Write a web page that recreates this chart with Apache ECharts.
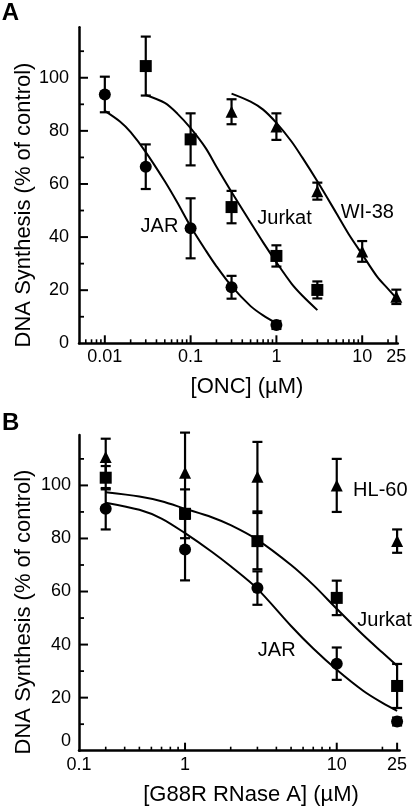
<!DOCTYPE html>
<html><head><meta charset="utf-8">
<script src="https://cdn.jsdelivr.net/npm/echarts@6/dist/echarts.min.js"></script>
<style>html,body{margin:0;padding:0;background:#fff}#c{width:412px;height:807px}</style>
</head><body><div id="c"></div>
<script>
// ---------- Panel A : ONC ----------
const oncXMin = 0.005, oncXMax = 26;
const oncXTickValues = [0.01, 0.1, 1, 10, 25];
const oncXTickLabels = ['0.01', '0.1', '1', '10', '25'];
const oncXMinorTicks = [0.006, 0.007, 0.008, 0.009, 0.02, 0.03, 0.04, 0.05, 0.06, 0.07, 0.08, 0.09,
  0.2, 0.3, 0.4, 0.5, 0.6, 0.7, 0.8, 0.9, 2, 3, 4, 5, 6, 7, 8, 9, 20];

const oncJarX = [0.01, 0.03, 0.1, 0.3, 1];
const oncJarY = [93.7, 66.5, 43.3, 21.1, 6.9];
const oncJarErr = [6.7, 8.4, 11.3, 4.3, 1.5];
const oncJurkatX = [0.03, 0.1, 0.3, 1, 3];
const oncJurkatY = [104.4, 76.8, 51.3, 32.9, 20.1];
const oncJurkatErr = [11.1, 9.8, 6.1, 4.0, 3.2];
const oncWi38X = [0.3, 1, 3, 10, 25];
const oncWi38Y = [87.2, 81.6, 57.3, 34.6, 17.5];
const oncWi38Err = [4.7, 5.0, 3.2, 3.9, 2.7];

const oncJarFitX = [0.01, 0.015, 0.02, 0.03, 0.05, 0.07, 0.1, 0.15, 0.2, 0.3, 0.5, 0.7, 1];
const oncJarFitY = [87.5, 83.5, 79.5, 72, 61, 53, 44, 35, 29, 21.5, 14, 10.5, 7.5];
const oncJurkatFitX = [0.03, 0.05, 0.07, 0.1, 0.15, 0.2, 0.3, 0.5, 0.7, 1, 1.5, 2, 3];
const oncJurkatFitY = [93.5, 90.5, 86.5, 81, 73.5, 66.5, 57, 45.5, 38, 30.5, 22.5, 18, 12.5];
const oncWi38FitX = [0.3, 0.5, 0.7, 1, 1.5, 2, 3, 5, 7, 10, 15, 20, 25];
const oncWi38FitY = [94, 91, 88, 83, 76, 70, 61, 49, 41, 33.5, 25, 20.5, 17];

// ---------- Panel B : G88R RNase A ----------
const rnXMin = 0.2, rnXMax = 26;
const rnXTickValues = [0.2, 1, 10, 25];
const rnXTickLabels = ['0.1', '1', '10', '25'];
const rnXMinorTicks = [0.3, 0.4, 0.5, 0.6, 0.7, 0.8, 0.9, 2, 3, 4, 5, 6, 7, 8, 9, 20];

const rnX = [0.3, 1, 3, 10, 25];
const rnJarY = [91.2, 75.8, 61.3, 32.8, 11.0];
const rnJarErr = [7.8, 11.6, 6.3, 6.1, 1.5];
const rnJurkatY = [102.9, 89.3, 79.0, 57.6, 24.4];
const rnJurkatErr = [4.4, 9.2, 10.6, 6.5, 8.3];
const rnHl60Y = [110.7, 104.8, 103.3, 100.0, 79.0];
const rnHl60Err = [6.9, 15.1, 13.1, 10.0, 4.4];

const rnFitX = [0.3, 0.5, 0.7, 1, 1.5, 2, 3, 5, 7, 10, 15, 20, 25];
const rnJurkatFitY = [97.4, 95.8, 94, 91.2, 88, 85, 79.5, 70, 62.5, 53.5, 43.5, 37, 32];
const rnJarFitY = [93.5, 90.8, 87.5, 82, 75, 69.5, 61, 47, 38.5, 30.5, 22.5, 18, 15];

// ---------- shared y axis ----------
const yMin = 0, yMax = 119;
const yTickValues = [0, 20, 40, 60, 80, 100];
const yMinorTicks = [10, 30, 50, 70, 90, 110];

const FONT = '"Liberation Sans", Arial, Helvetica, sans-serif';
const K = '#000';

function zip(xs, ys, es) { return xs.map((x, i) => es ? [x, ys[i], es[i]] : [x, ys[i]]); }
function labelFor(v, values, labels) {
  for (let i = 0; i < values.length; i++) {
    if (Math.abs(Math.log10(v) - Math.log10(values[i])) < 1e-6) return labels[i];
  }
  return '';
}
function xAxisDef(gridIndex, min, max, values, labels) {
  return {
    type: 'log', logBase: 10, gridIndex, min, max, position: 'bottom',
    axisLine: { show: true, onZero: false, lineStyle: { color: K, width: 2.5 } },
    axisTick: { show: false },
    axisLabel: { show: true, customValues: values, margin: 5, color: K, fontSize: 18, fontFamily: FONT,
      formatter: v => labelFor(v, values, labels) },
    splitLine: { show: false }, minorTick: { show: false }
  };
}
function yAxisDef(gridIndex, margin, shiftZero) {
  return {
    type: 'value', gridIndex, min: yMin, max: yMax, position: 'left',
    axisLine: { show: true, onZero: false, lineStyle: { color: K, width: 2.5 } },
    axisTick: { show: false },
    axisLabel: { show: true, customValues: yTickValues, margin, color: K, fontSize: 18, fontFamily: FONT,
      formatter: v => (shiftZero && v === 0) ? '{z|0}' : String(v),
      rich: { z: { fontSize: 18, fontFamily: FONT, color: K, padding: [0, 0, 19, 0] } } },
    splitLine: { show: false }
  };
}
// Inward tick marks: position along the axis comes from the axis scale (api.coord),
// the other coordinate is the grid edge taken from params.coordSys.
function xTicks(ai, values, midY, len, w) {
  return { type: 'custom', xAxisIndex: ai, yAxisIndex: ai, silent: true, clip: false, z: 10, zlevel: 1,
    data: values.map(v => [v, midY]), encode: { x: 0, y: 1 },
    renderItem: (params, api) => {
      const px = api.coord([api.value(0), api.value(1)])[0];
      const cs = params.coordSys;
      const py = cs.y + cs.height;
      return { type: 'group', children: [{ type: 'line',
        shape: { x1: px, y1: py, x2: px, y2: py - len }, style: { stroke: K, lineWidth: w, fill: null } }] };
    } };
}
function yTicks(ai, midX, values, len, w) {
  return { type: 'custom', xAxisIndex: ai, yAxisIndex: ai, silent: true, clip: false, z: 10, zlevel: 1,
    data: values.map(v => [midX, v]), encode: { x: 0, y: 1 },
    renderItem: (params, api) => {
      const py = api.coord([api.value(0), api.value(1)])[1];
      const cs = params.coordSys;
      const px = cs.x;
      return { type: 'group', children: [{ type: 'line',
        shape: { x1: px, y1: py, x2: px + len, y2: py }, style: { stroke: K, lineWidth: w, fill: null } }] };
    } };
}
function errRender(params, api) {
  const x = api.value(0), y = api.value(1), e = api.value(2);
  const t = api.coord([x, y + e]);
  const b = api.coord([x, y - e]);
  const hw = 5;
  const st = { stroke: K, lineWidth: 2.2, fill: null };
  return { type: 'group', children: [
    { type: 'line', shape: { x1: t[0], y1: t[1], x2: b[0], y2: b[1] }, style: st },
    { type: 'line', shape: { x1: t[0] - hw, y1: t[1], x2: t[0] + hw, y2: t[1] }, style: st },
    { type: 'line', shape: { x1: b[0] - hw, y1: b[1], x2: b[0] + hw, y2: b[1] }, style: st }
  ] };
}
function errSeries(ai, xs, ys, es) {
  return { type: 'custom', xAxisIndex: ai, yAxisIndex: ai, renderItem: errRender, clip: false,
    encode: { x: 0, y: 1 }, data: zip(xs, ys, es), z: 3, silent: true };
}
function pts(ai, xs, ys, symbol) {
  return { type: 'scatter', xAxisIndex: ai, yAxisIndex: ai, symbol, symbolSize: 12,
    itemStyle: { color: K, opacity: 1 }, data: zip(xs, ys), z: 5, silent: true };
}
function fit(ai, xs, ys) {
  return { type: 'line', xAxisIndex: ai, yAxisIndex: ai, data: zip(xs, ys), showSymbol: false,
    smooth: 0.3, lineStyle: { color: K, width: 2 }, z: 4, silent: true };
}
function txt(x, y, text, size, extra) {
  return Object.assign({ type: 'text', x, y, silent: true,
    style: { text, font: (extra && extra.bold ? 'bold ' : '') + size + 'px ' + FONT, fill: K,
      align: 'center', verticalAlign: 'middle' } }, extra && extra.rot ? { rotation: Math.PI / 2 } : {});
}

const oncMidX = 0.3, rnMidX = 2, midY = 50;

const option = {
  backgroundColor: '#fff',
  animation: false,
  grid: [
    { left: 79, top: 27.3, width: 318.8, height: 316 },
    { left: 79, top: 435, width: 320.7, height: 315.7 }
  ],
  xAxis: [
    xAxisDef(0, oncXMin, oncXMax, oncXTickValues, oncXTickLabels),
    xAxisDef(1, rnXMin, rnXMax, rnXTickValues, rnXTickLabels)
  ],
  yAxis: [yAxisDef(0, 10, false), yAxisDef(1, 8, true)],
  series: [
    xTicks(0, oncXTickValues, midY, 8, 2),
    xTicks(0, oncXMinorTicks, midY, 4, 1.6),
    yTicks(0, oncMidX, yTickValues.slice(1), 9, 2),
    yTicks(0, oncMidX, yMinorTicks, 5, 1.8),
    errSeries(0, oncJarX, oncJarY, oncJarErr),
    errSeries(0, oncJurkatX, oncJurkatY, oncJurkatErr),
    errSeries(0, oncWi38X, oncWi38Y, oncWi38Err),
    fit(0, oncJarFitX, oncJarFitY),
    fit(0, oncJurkatFitX, oncJurkatFitY),
    fit(0, oncWi38FitX, oncWi38FitY),
    pts(0, oncJarX, oncJarY, 'circle'),
    pts(0, oncJurkatX, oncJurkatY, 'rect'),
    pts(0, oncWi38X, oncWi38Y, 'triangle'),

    xTicks(1, rnXTickValues.slice(1), midY, 8, 2),
    xTicks(1, rnXMinorTicks, midY, 4, 1.6),
    yTicks(1, rnMidX, yTickValues.slice(1), 9, 2),
    yTicks(1, rnMidX, yMinorTicks, 5, 1.8),
    errSeries(1, rnX, rnHl60Y, rnHl60Err),
    errSeries(1, rnX, rnJurkatY, rnJurkatErr),
    errSeries(1, rnX, rnJarY, rnJarErr),
    fit(1, rnFitX, rnJurkatFitY),
    fit(1, rnFitX, rnJarFitY),
    pts(1, rnX, rnHl60Y, 'triangle'),
    pts(1, rnX, rnJurkatY, 'rect'),
    pts(1, rnX, rnJarY, 'circle')
  ],
  graphic: [
    txt(10.5, 13.5, 'A', 24, { bold: true }),
    txt(10.7, 423, 'B', 24, { bold: true }),
    txt(24, 205, 'DNA Synthesis (% of control)', 22, { rot: true }),
    txt(24, 612, 'DNA Synthesis (% of control)', 22, { rot: true }),
    txt(247, 387, '[ONC] (\u00b5M)', 22),
    txt(251, 795, '[G88R RNase A] (\u00b5M)', 22),
    txt(159.5, 226.5, 'JAR', 20),
    txt(284.5, 218.5, 'Jurkat', 20),
    txt(367.3, 212.7, 'WI-38', 20),
    txt(380.3, 490.7, 'HL-60', 20),
    txt(384.5, 620, 'Jurkat', 20),
    txt(276.7, 650.7, 'JAR', 20)
  ]
};
const chart = echarts.init(document.getElementById('c'), null, { renderer: 'canvas' });
chart.setOption(option);
</script></body></html>
